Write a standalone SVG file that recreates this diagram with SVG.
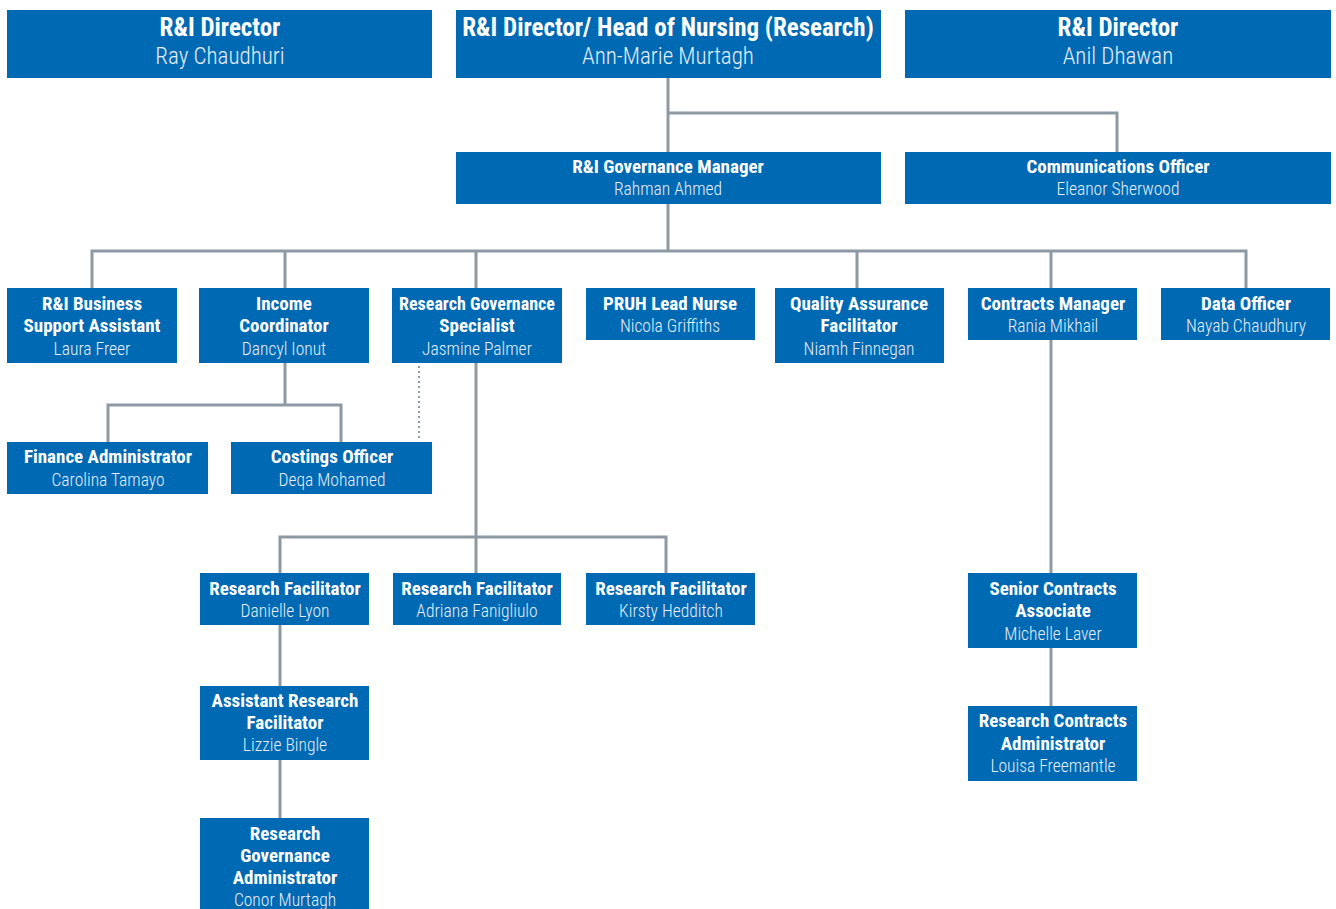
<svg xmlns="http://www.w3.org/2000/svg" width="1336" height="909" viewBox="0 0 1336 909">
  <style>
    .box { fill: #0069b4; }
    .t { font-family: "Roboto Condensed", "Liberation Sans Narrow", "DejaVu Sans Condensed", "Liberation Sans", sans-serif; fill: #ffffff; text-anchor: middle; }
    .ti { font-weight: bold; font-size: 19px; }
    .ti18 { font-size: 18px; }
    .nm { font-size: 17.5px; font-weight: 300; fill: #e6eef7; }
    .tbig { font-weight: bold; font-size: 25px; }
    .nbig { font-size: 23px; font-weight: 300; fill: #e6eef7; }
    .ln { stroke: #8d9aa4; stroke-width: 3; fill: none; }
    .dot { stroke: #8d9aa4; stroke-width: 2; stroke-dasharray: 2 3; fill: none; }
  </style>

  <!-- connectors -->
  <g id="connectors">
    <path class="ln" d="M668 78 V152 M668 113 H1117 V152"/>
    <path class="ln" d="M668 204 V251 M92 288 V251 H1246 V288 M285 251 V288 M476 251 V288 M857 251 V288 M1051 251 V288"/>
    <path class="ln" d="M285 363 V405 M108 442 V405 H341 V442"/>
    <path class="dot" d="M419 366 V440"/>
    <path class="ln" d="M476 363 V537 M280 573 V537 H666 V573 M476 537 V573"/>
    <path class="ln" d="M280 625 V686 M280 760 V818"/>
    <path class="ln" d="M1051 340 V573 M1051 648 V706"/>
  </g>

  <!-- top row -->
  <g id="director-ray">
    <rect class="box" x="7" y="10" width="425" height="68"/>
    <text class="t tbig" x="220" y="36">R&amp;I Director</text>
    <text class="t nbig" x="220" y="64">Ray Chaudhuri</text>
  </g>
  <g id="director-annmarie">
    <rect class="box" x="456" y="10" width="425" height="68"/>
    <text class="t tbig" x="668" y="36">R&amp;I Director/ Head of Nursing (Research)</text>
    <text class="t nbig" x="668" y="64">Ann-Marie Murtagh</text>
  </g>
  <g id="director-anil">
    <rect class="box" x="905" y="10" width="426" height="68"/>
    <text class="t tbig" x="1118" y="36">R&amp;I Director</text>
    <text class="t nbig" x="1118" y="64">Anil Dhawan</text>
  </g>

  <!-- second row -->
  <g id="governance-manager">
    <rect class="box" x="456" y="152" width="425" height="52"/>
    <text class="t ti" x="668" y="173">R&amp;I Governance Manager</text>
    <text class="t nm" x="668" y="195">Rahman Ahmed</text>
  </g>
  <g id="communications-officer">
    <rect class="box" x="905" y="152" width="426" height="52"/>
    <text class="t ti" x="1118" y="173">Communications Officer</text>
    <text class="t nm" x="1118" y="195">Eleanor Sherwood</text>
  </g>

  <!-- third row -->
  <g id="business-support">
    <rect class="box" x="7" y="288" width="170" height="75"/>
    <text class="t ti" x="92" y="310">R&amp;I Business</text>
    <text class="t ti" x="92" y="332">Support Assistant</text>
    <text class="t nm" x="92" y="355">Laura Freer</text>
  </g>
  <g id="income-coordinator">
    <rect class="box" x="199" y="288" width="170" height="75"/>
    <text class="t ti" x="284" y="310">Income</text>
    <text class="t ti" x="284" y="332">Coordinator</text>
    <text class="t nm" x="284" y="355">Dancyl Ionut</text>
  </g>
  <g id="governance-specialist">
    <rect class="box" x="392" y="288" width="170" height="75"/>
    <text class="t ti ti18" x="477" y="310">Research Governance</text>
    <text class="t ti" x="477" y="332">Specialist</text>
    <text class="t nm" x="477" y="355">Jasmine Palmer</text>
  </g>
  <g id="pruh-lead-nurse">
    <rect class="box" x="586" y="288" width="169" height="52"/>
    <text class="t ti" x="670" y="310">PRUH Lead Nurse</text>
    <text class="t nm" x="670" y="332">Nicola Griffiths</text>
  </g>
  <g id="quality-assurance">
    <rect class="box" x="775" y="288" width="169" height="75"/>
    <text class="t ti" x="859" y="310">Quality Assurance</text>
    <text class="t ti" x="859" y="332">Facilitator</text>
    <text class="t nm" x="859" y="355">Niamh Finnegan</text>
  </g>
  <g id="contracts-manager">
    <rect class="box" x="968" y="288" width="169" height="52"/>
    <text class="t ti" x="1053" y="310">Contracts Manager</text>
    <text class="t nm" x="1053" y="332">Rania Mikhail</text>
  </g>
  <g id="data-officer">
    <rect class="box" x="1161" y="288" width="169" height="52"/>
    <text class="t ti" x="1246" y="310">Data Officer</text>
    <text class="t nm" x="1246" y="332">Nayab Chaudhury</text>
  </g>

  <!-- finance branch -->
  <g id="finance-administrator">
    <rect class="box" x="7" y="442" width="201" height="52"/>
    <text class="t ti" x="108" y="463">Finance Administrator</text>
    <text class="t nm" x="108" y="486">Carolina Tamayo</text>
  </g>
  <g id="costings-officer">
    <rect class="box" x="231" y="442" width="201" height="52"/>
    <text class="t ti" x="332" y="463">Costings Officer</text>
    <text class="t nm" x="332" y="486">Deqa Mohamed</text>
  </g>

  <!-- research facilitators -->
  <g id="facilitator-lyon">
    <rect class="box" x="200" y="573" width="169" height="52"/>
    <text class="t ti" x="285" y="595">Research Facilitator</text>
    <text class="t nm" x="285" y="617">Danielle Lyon</text>
  </g>
  <g id="facilitator-fanigliulo">
    <rect class="box" x="393" y="573" width="168" height="52"/>
    <text class="t ti" x="477" y="595">Research Facilitator</text>
    <text class="t nm" x="477" y="617">Adriana Fanigliulo</text>
  </g>
  <g id="facilitator-hedditch">
    <rect class="box" x="586" y="573" width="169" height="52"/>
    <text class="t ti" x="671" y="595">Research Facilitator</text>
    <text class="t nm" x="671" y="617">Kirsty Hedditch</text>
  </g>
  <g id="assistant-facilitator">
    <rect class="box" x="200" y="686" width="169" height="74"/>
    <text class="t ti" x="285" y="707">Assistant Research</text>
    <text class="t ti" x="285" y="729">Facilitator</text>
    <text class="t nm" x="285" y="751">Lizzie Bingle</text>
  </g>
  <g id="governance-administrator">
    <rect class="box" x="200" y="818" width="169" height="91"/>
    <text class="t ti" x="285" y="840">Research</text>
    <text class="t ti" x="285" y="862">Governance</text>
    <text class="t ti" x="285" y="884">Administrator</text>
    <text class="t nm" x="285" y="906">Conor Murtagh</text>
  </g>

  <!-- contracts branch -->
  <g id="senior-contracts">
    <rect class="box" x="968" y="573" width="169" height="75"/>
    <text class="t ti" x="1053" y="595">Senior Contracts</text>
    <text class="t ti" x="1053" y="617">Associate</text>
    <text class="t nm" x="1053" y="640">Michelle Laver</text>
  </g>
  <g id="contracts-administrator">
    <rect class="box" x="968" y="706" width="169" height="75"/>
    <text class="t ti" x="1053" y="727">Research Contracts</text>
    <text class="t ti" x="1053" y="750">Administrator</text>
    <text class="t nm" x="1053" y="772">Louisa Freemantle</text>
  </g>
</svg>
